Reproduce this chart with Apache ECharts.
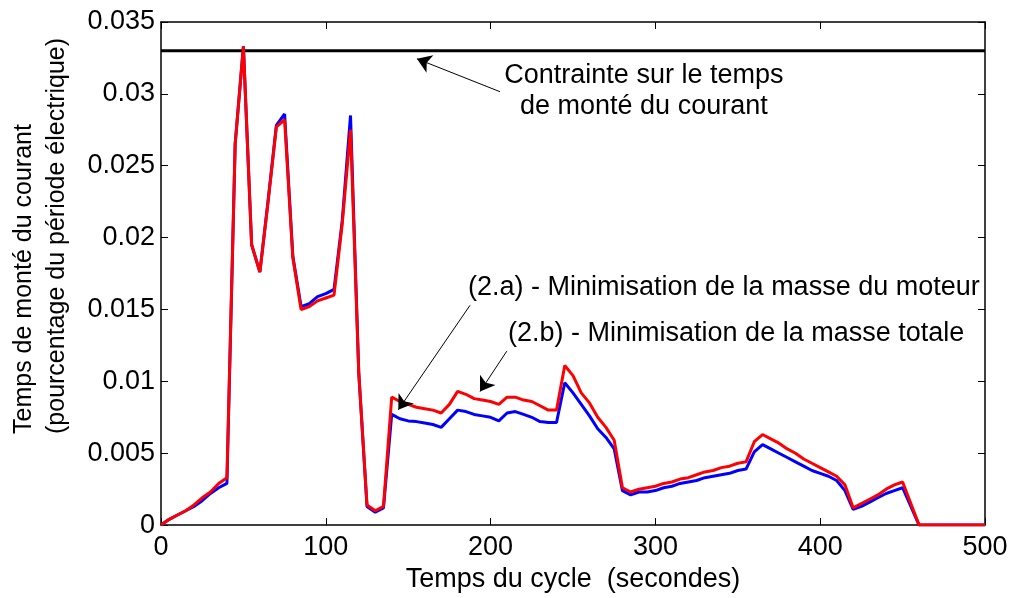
<!DOCTYPE html>
<html>
<head>
<meta charset="utf-8">
<script src="https://cdn.jsdelivr.net/npm/echarts@6/dist/echarts.min.js"></script>
<style>
html,body{margin:0;padding:0;background:#fff;}
#chart{width:1012px;height:598px;}
</style>
</head>
<body>
<div id="chart"></div>
<script>
// Time (s)
const timeSec = [0,5,10,15,20,25,30,35,40,45,50,55,60,65,70,75,80,85,90,95,100,105,110,115,120,125,130,135,140,145,150,155,160,165,170,175,180,185,190,195,200,205,210,215,220,225,230,235,240,245,250,255,260,265,270,275,280,285,290,295,300,305,310,315,320,325,330,335,340,345,350,355,360,365,370,375,380,385,390,395,400,405,410,415,420,425,430,435,440,445,450,455,460,500];
// (2.a) Minimisation de la masse du moteur (blue)
const seriesA = [0,0.0004,0.0007,0.0010,0.0013,0.0017,0.0022,0.0026,0.0029,0.0265,0.0333,0.0195,0.0176,0.0226,0.0278,0.0286,0.0187,0.0152,0.0154,0.0159,0.0161,0.0164,0.0212,0.0285,0.0106,0.0013,0.0009,0.0012,0.0077,0.0074,0.00725,0.0072,0.0071,0.0070,0.0068,0.0074,0.0080,0.0079,0.0077,0.0076,0.0075,0.00725,0.0078,0.0079,0.0077,0.0075,0.0072,0.00714,0.00714,0.0099,0.0092,0.0084,0.0076,0.0067,0.0061,0.0053,0.0024,0.0021,0.0023,0.0023,0.0024,0.0026,0.0027,0.0029,0.0030,0.0031,0.0033,0.0034,0.0035,0.0036,0.0038,0.0039,0.0051,0.0056,0.0053,0.0050,0.0047,0.0044,0.0041,0.0038,0.0036,0.0034,0.0031,0.0024,0.0011,0.0013,0.0016,0.0019,0.0022,0.0024,0.0026,0.0013,0,0];
// (2.b) Minimisation de la masse totale (red)
const seriesB = [0,0.0004,0.0007,0.0010,0.0014,0.0019,0.0023,0.0029,0.0033,0.0265,0.0333,0.0195,0.0176,0.0225,0.0277,0.0282,0.0186,0.0150,0.0152,0.0156,0.0158,0.0160,0.0210,0.0275,0.0106,0.0014,0.0010,0.0013,0.0089,0.0086,0.0084,0.0082,0.0081,0.0080,0.0078,0.0084,0.0093,0.0091,0.0088,0.0087,0.0086,0.0084,0.0089,0.0089,0.0087,0.0086,0.0083,0.0080,0.0080,0.0111,0.0104,0.0092,0.0085,0.0075,0.0068,0.0059,0.0026,0.0023,0.0025,0.0026,0.0027,0.0029,0.0030,0.0032,0.0033,0.0035,0.0037,0.0038,0.0040,0.0041,0.0043,0.0044,0.0058,0.0063,0.0060,0.0057,0.0053,0.0050,0.0046,0.0043,0.0040,0.0037,0.0034,0.0028,0.0012,0.0015,0.0018,0.0021,0.0025,0.0028,0.0030,0.0015,0,0];
// Constraint level
const constraintX = [0, 500];
const constraintY = [0.033, 0.033];
// Tick labels
const xTickLabels = ['0','100','200','300','400','500'];
const yTickLabels = ['0','0.005','0.01','0.015','0.02','0.025','0.03','0.035'];
// Annotations (data coordinates)
const annConstraintText = 'Contrainte sur le temps\nde monté du courant';
const annConstraintPos = [293, 0.0302];
const annConstraintArrow = [[205.7, 0.03015], [155.3, 0.03244]];
const annAText = '(2.a) - Minimisation de la masse du moteur';
const annAPos = [186.3, 0.01651];
const annAArrow = [[187.5, 0.01529], [144.0, 0.00802]];
const annBText = '(2.b) - Minimisation de la masse totale';
const annBPos = [210.6, 0.01333];
const annBArrow = [[209.8, 0.0121], [193.6, 0.00929]];

const FONT = 'Liberation Sans';
const FS = 27;

const chart = echarts.init(document.getElementById('chart'), null, {renderer:'canvas'});

const zip = (xs, ys) => xs.map((x, i) => [x, ys[i]]);

const arrowLine = (a) => [{coord: a[0]}, {coord: a[1]}];

const option = {
  animation: false,
  backgroundColor: '#fff',
  grid: {left: 161, right: 27, top: 22, bottom: 70},
  xAxis: [{
    type: 'value', min: 0, max: 500, interval: 100, position: 'bottom',
    name: 'Temps du cycle  (secondes)', nameLocation: 'middle', nameGap: 38,
    nameTextStyle: {fontFamily: FONT, fontSize: FS, color: '#000'},
    axisLine: {show: true, onZero: false, lineStyle: {color: '#000', width: 1.5}},
    axisTick: {show: true, inside: true, length: 7, lineStyle: {color: '#000'}},
    axisLabel: {fontFamily: FONT, fontSize: FS, color: '#000', margin: 9,
      formatter: (v) => xTickLabels[Math.round(v / 100)]},
    splitLine: {show: false}
  }, {
    type: 'value', min: 0, max: 500, interval: 100, position: 'top',
    axisLine: {show: true, onZero: false, lineStyle: {color: '#000', width: 1.5}},
    axisTick: {show: true, inside: true, length: 7, lineStyle: {color: '#000'}},
    axisLabel: {show: false}, splitLine: {show: false}
  }],
  yAxis: [{
    type: 'value', min: 0, max: 0.035, interval: 0.005, position: 'left',
    axisLine: {show: true, onZero: false, lineStyle: {color: '#000', width: 1.5}},
    axisTick: {show: true, inside: true, length: 7, lineStyle: {color: '#000'}},
    axisLabel: {fontFamily: FONT, fontSize: FS, color: '#000', margin: 6,
      formatter: (v) => yTickLabels[Math.round(v / 0.005)]},
    splitLine: {show: false}
  }, {
    type: 'value', min: 0, max: 0.035, interval: 0.005, position: 'right',
    axisLine: {show: true, onZero: false, lineStyle: {color: '#000', width: 1.5}},
    axisTick: {show: true, inside: true, length: 7, lineStyle: {color: '#000'}},
    axisLabel: {show: false}, splitLine: {show: false}
  }],
  graphic: [{
    type: 'text', x: 41, y: 434, rotation: Math.PI / 2,
    style: {
      text: 'Temps de monté du courant\n(pourcentage du période électrique)',
      fontFamily: FONT, fontSize: 25, fill: '#000', lineHeight: 33,
      textAlign: 'left', textVerticalAlign: 'middle'
    }
  }],
  series: [{
    type: 'line', name: 'constraint', data: zip(constraintX, constraintY),
    showSymbol: false, symbol: 'none', lineStyle: {color: '#000', width: 3}, z: 2,
    silent: true
  }, {
    type: 'line', name: '(2.a)', data: zip(timeSec, seriesA),
    showSymbol: false, symbol: 'none', lineStyle: {color: '#0000ff', width: 3}, z: 3
  }, {
    type: 'line', name: '(2.b)', data: zip(timeSec, seriesB),
    showSymbol: false, symbol: 'none', lineStyle: {color: '#ff0000', width: 3}, z: 4,
    markLine: {
      silent: true, animation: false,
      symbol: ['none', 'arrow'], symbolSize: 14,
      itemStyle: {color: '#000'},
      lineStyle: {color: '#000', width: 1, type: 'solid'},
      label: {show: false},
      data: [arrowLine(annConstraintArrow), arrowLine(annAArrow), arrowLine(annBArrow)]
    },
    markPoint: {
      silent: true, animation: false, symbol: 'circle', symbolSize: 0,
      itemStyle: {color: 'transparent'},
      data: [
        {coord: annConstraintPos, label: {show: true, formatter: annConstraintText, position: 'inside',
          align: 'center', verticalAlign: 'middle', lineHeight: 31, fontFamily: FONT, fontSize: FS, color: '#000'}},
        {coord: annAPos, label: {show: true, formatter: annAText, position: 'right', distance: 0,
          align: 'left', verticalAlign: 'middle', fontFamily: FONT, fontSize: FS, color: '#000'}},
        {coord: annBPos, label: {show: true, formatter: annBText, position: 'right', distance: 0,
          align: 'left', verticalAlign: 'middle', fontFamily: FONT, fontSize: FS, color: '#000'}}
      ]
    }
  }]
};
chart.setOption(option);
</script>
</body>
</html>
